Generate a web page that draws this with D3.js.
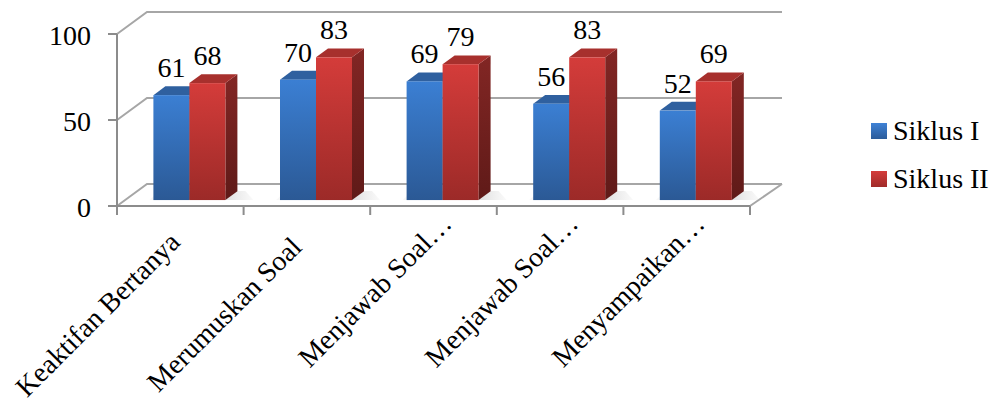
<!DOCTYPE html>
<html><head><meta charset="utf-8">
<script src="https://cdn.jsdelivr.net/npm/d3@7"></script>
</head>
<body style="margin:0">
<svg id="chart" width="997" height="403"></svg>
<script>
const categories = ["Keaktifan Bertanya","Merumuskan Soal","Menjawab Soal\u2026","Menjawab Soal\u2026","Menyampaikan\u2026"];
const seriesNames = ["Siklus I","Siklus II"];
const siklus1 = [61,70,69,56,52];
const siklus2 = [68,83,79,83,69];
const yTicks = [0,50,100];

const svg = d3.select("#chart");
const defs = svg.append("defs");

const pLeft = 117, pRight = 750, pTop = 34, pBottom = 206;
const depthX = 30, depthY = 22;
const f0 = 0.27, f1 = 0.67;

const x = d3.scaleBand().domain(d3.range(categories.length)).range([pLeft,pRight]).padding(0);
const y = d3.scaleLinear().domain([0,100]).range([pBottom,pTop]);
const sub = d3.scaleBand().domain(seriesNames).range([-35,37]);

function grad(id, c1, c2, horiz){
  const g = defs.append("linearGradient").attr("id",id).attr("x1",0).attr("y1",0).attr("x2",horiz?1:0).attr("y2",horiz?0:1);
  g.append("stop").attr("offset","0%").attr("stop-color",c1);
  g.append("stop").attr("offset","100%").attr("stop-color",c2);
}
grad("bFront","#3b7fd3","#2b5995");
grad("bSide","#234a7c","#1b3a62");
grad("rFront","#d43c3a","#9c2a28");
grad("rSide","#822624","#5f1a18");
grad("bLeg","#3f82d6","#2c5c9a");
grad("rLeg","#d43c3a","#a02b29");
const sg = defs.append("linearGradient").attr("id","shd").attr("x1",0).attr("y1",0).attr("x2",1).attr("y2",0);
sg.append("stop").attr("offset","0%").attr("stop-color","#bdbdbd").attr("stop-opacity",0.1);
sg.append("stop").attr("offset","60%").attr("stop-color","#a8a8a8").attr("stop-opacity",0.6);
sg.append("stop").attr("offset","100%").attr("stop-color","#c8c8c8").attr("stop-opacity",0.1);

const colors = {
  "Siklus I": {front:"url(#bFront)", side:"url(#bSide)", top:"#2f609f", leg:"url(#bLeg)"},
  "Siklus II":{front:"url(#rFront)", side:"url(#rSide)", top:"#a7302d", leg:"url(#rLeg)"}
};

function txt(sel){
  return sel.attr("font-size",28).style("font-family",'"Liberation Serif", monospace');
}

const grid = "#a6a6a6";
yTicks.forEach(t=>{
  const yy = y(t);
  svg.append("path")
    .attr("d", `M${pLeft},${yy}L${pLeft+depthX},${yy-depthY}L${pRight+depthX+2},${yy-depthY}`)
    .attr("fill","none").attr("stroke",grid).attr("stroke-width",2);
});
svg.append("path").attr("d",`M${pRight},${pBottom}L${pRight+depthX+2},${pBottom-depthY}`)
  .attr("fill","none").attr("stroke",grid).attr("stroke-width",2);

const data = categories.map((c,i)=>({i, vals:[{s:seriesNames[0],v:siklus1[i]},{s:seriesNames[1],v:siklus2[i]}]}));
data.forEach(d=>{
  const cx = x(d.i) + x.bandwidth()/2;
  const x0 = cx + sub(seriesNames[0]) + f0*depthX, x1 = cx + sub(seriesNames[1]) + sub.bandwidth() + f1*depthX;
  const yb = pBottom - f0*depthY;
  svg.append("path")
    .attr("d",`M${x0-4},${yb}L${x1+16},${yb}L${x1+8},${yb-9}L${x0+6},${yb-9}Z`)
    .attr("fill","url(#shd)");
});

data.forEach(d=>{
  const cx = x(d.i) + x.bandwidth()/2;
  d.vals.forEach(b=>{
    const c = colors[b.s];
    const xa = cx + sub(b.s) + f0*depthX, xb = xa + sub.bandwidth();
    const ya = y(b.v) - f0*depthY, yb = y(0) - f0*depthY;
    const ddx = (f1-f0)*depthX, ddy = (f1-f0)*depthY;
    const g = svg.append("g");
    g.append("path").attr("d",`M${xb},${ya}L${xb+ddx},${ya-ddy}L${xb+ddx},${yb-ddy}L${xb},${yb}Z`).attr("fill",c.side);
    g.append("path").attr("d",`M${xa},${ya}L${xa+ddx},${ya-ddy}L${xb+ddx},${ya-ddy}L${xb},${ya}Z`).attr("fill",c.top);
    g.append("rect").attr("x",xa).attr("y",ya).attr("width",xb-xa).attr("height",yb-ya).attr("fill",c.front);
  });
});

data.forEach(d=>{
  const cx = x(d.i) + x.bandwidth()/2;
  d.vals.forEach(b=>{
    const xa = cx + sub(b.s) + f0*depthX;
    txt(svg.append("text")).attr("x", xa + sub.bandwidth()/2).attr("y", y(b.v) - f0*depthY - 18)
      .attr("text-anchor","middle").text(b.v);
  });
});

const axisCol = "#8c8c8c";
svg.append("line").attr("x1",pLeft).attr("x2",pLeft).attr("y1",pTop).attr("y2",pBottom).attr("stroke",axisCol).attr("stroke-width",2);
svg.append("line").attr("x1",pLeft-1).attr("x2",pRight).attr("y1",pBottom).attr("y2",pBottom).attr("stroke",axisCol).attr("stroke-width",2);
yTicks.forEach(t=>{
  svg.append("line").attr("x1",pLeft-9).attr("x2",pLeft).attr("y1",y(t)).attr("y2",y(t)).attr("stroke",axisCol).attr("stroke-width",2);
  txt(svg.append("text")).attr("x",91).attr("y",y(t)+10.5).attr("text-anchor","end").text(t);
});
d3.range(categories.length+1).forEach(k=>{
  const xx = pLeft + k*x.bandwidth();
  svg.append("line").attr("x1",xx).attr("x2",xx).attr("y1",pBottom).attr("y2",pBottom+9).attr("stroke",axisCol).attr("stroke-width",2);
});

categories.forEach((c,i)=>{
  const cx = x(i) + x.bandwidth()/2;
  const trunc = c.endsWith("\u2026");
  const mx = trunc ? cx - 52 : cx - 76;
  const my = trunc ? pBottom + 91 : pBottom + 115;
  txt(svg.append("text")).attr("transform",`translate(${mx},${my}) rotate(-45)`)
    .attr("text-anchor","middle").text(c);
});

seriesNames.forEach((s,i)=>{
  const ly = 123 + i*48;
  svg.append("rect").attr("x",871).attr("y",ly).attr("width",16).attr("height",16).attr("fill",colors[s].leg);
  txt(svg.append("text")).attr("x",893).attr("y",ly+17).text(s);
});
</script>
</body></html>
